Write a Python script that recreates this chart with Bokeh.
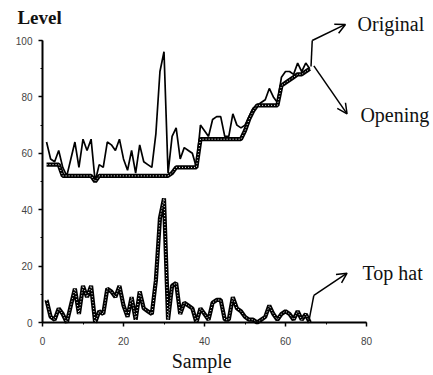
from bokeh.plotting import figure
from bokeh.models import Range1d, Label, Arrow, OpenHead, FixedTicker
from bokeh.embed import file_html
from bokeh.resources import INLINE

# ---- data ----
samples = list(range(1, 67))
original = [64, 58, 57, 61, 55, 52, 58, 64, 55, 65, 61, 65, 50, 56, 55, 64, 63, 61, 65, 58,
            54, 61, 53, 63, 57, 56, 55, 67, 89, 96, 53, 66, 69, 58, 62, 61, 60, 55, 70, 68,
            66, 72, 73, 73, 66, 66, 74, 70, 69, 70, 73, 76, 77, 78, 79, 83, 80, 78, 87, 89,
            89, 88, 92, 89, 92, 90]
opening = [56, 56, 56, 56, 52, 52, 52, 52, 52, 52, 52, 52, 50, 52, 52, 52, 52, 52, 52, 52,
           52, 52, 52, 52, 52, 52, 52, 52, 52, 52, 52, 53, 55, 55, 55, 55, 55, 55, 65, 65,
           65, 65, 65, 65, 65, 65, 65, 65, 65, 68, 72, 75, 77, 77, 77, 77, 77, 77, 84, 85,
           86, 87, 88, 88, 89, 90]
tophat = [8, 2, 1, 5, 3, 0, 6, 12, 3, 13, 9, 13, 0, 4, 3, 12, 11, 9, 13, 6,
          2, 9, 1, 11, 5, 4, 3, 15, 37, 44, 1, 13, 14, 3, 7, 6, 5, 0, 5, 3,
          1, 7, 8, 8, 1, 1, 9, 5, 4, 2, 1, 1, 0, 1, 2, 6, 3, 1, 3, 4,
          3, 1, 4, 1, 3, 0]
x_ticks = [0, 20, 40, 60, 80]
y_ticks = [0, 20, 40, 60, 80, 100]

W, H = 433, 375
X0, Y0 = 42, 322          # canvas position of the data origin
PX_X, PX_Y = 4.05, 2.82   # pixels per unit

p = figure(width=W, height=H, output_backend="svg", toolbar_location=None,
           x_range=Range1d(-X0 / PX_X, (W - X0) / PX_X),
           y_range=Range1d(-(H - Y0) / PX_Y, Y0 / PX_Y),
           min_border=0, min_border_left=0, min_border_right=0,
           min_border_top=0, min_border_bottom=0)
p.outline_line_color = None
p.xgrid.visible = False
p.ygrid.visible = False
p.background_fill_color = "white"
p.border_fill_color = "white"

for ax, ticks, bounds in ((p.xaxis[0], x_ticks, (0, 80)), (p.yaxis[0], y_ticks, (0, 100))):
    ax.fixed_location = 0
    ax.ticker = FixedTicker(ticks=ticks, minor_ticks=list(range(0, bounds[1] + 1, 10)))
    ax.bounds = bounds
    ax.axis_line_width = 2
    ax.axis_line_color = "black"
    ax.major_tick_in = 0
    ax.major_tick_out = 4
    ax.minor_tick_in = 0
    ax.minor_tick_out = 2
    ax.major_tick_line_width = 1.5
    ax.major_label_text_font = "Liberation Sans"
    ax.major_label_text_font_size = "10px"
    ax.major_label_text_color = "#444444"
p.yaxis[0].major_label_standoff = 6
p.xaxis[0].major_label_standoff = 10

# original: thin line
p.line(samples, original, line_color="black", line_width=1.7)
# opening and top hat: thick line with white dotted core
for ys in (opening, tophat):
    p.line(samples, ys, line_color="black", line_width=4.2)
    p.line(samples, ys, line_color="white", line_width=1.0, line_dash="1 2")

# annotation arrows
p.line([66.3, 66.6], [90.8, 100], line_color="black", line_width=1.5)
p.add_layout(Arrow(x_start=66.6, y_start=100, x_end=74.8, y_end=105.7, line_width=1.5,
                   end=OpenHead(size=10, line_width=1.5)))
p.add_layout(Arrow(x_start=67, y_start=91, x_end=75.2, y_end=74, line_width=1.5,
                   end=OpenHead(size=10, line_width=1.5)))
p.line([65.8, 67], [0.7, 9.6], line_color="black", line_width=1.5)
p.add_layout(Arrow(x_start=67, y_start=9.6, x_end=75.2, y_end=17.5, line_width=1.5,
                   end=OpenHead(size=10, line_width=1.5)))

serif = "Liberation Serif"
def lab(txt, x, y, size, style="normal", align="left"):
    p.add_layout(Label(x=x, y=y, text=txt,
                       text_font=serif, text_font_size=size, text_font_style=style,
                       text_align=align, text_baseline="alphabetic", text_color="#111111"))

lab("Level", -6.2, 108.0, "19px", "bold")
lab("Original", 77.8, 106.0, "20px")
lab("Opening", 78.5, 73.5, "20px")
lab("Top hat", 79.0, 17.5, "20px")
lab("Sample", 39.3, -13.5, "20px", "normal", "center")

open("out.html", "w").write(file_html(p, INLINE))
